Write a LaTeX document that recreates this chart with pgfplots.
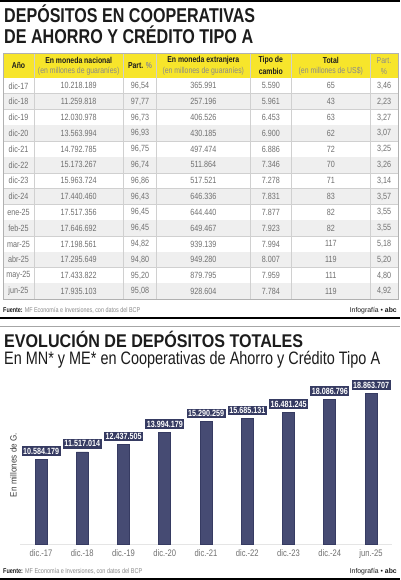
\documentclass[border=0pt]{standalone}
\usepackage{fontspec}
\setmainfont{Liberation Sans}
\newfontfamily\cond[FakeStretch=0.8]{Liberation Sans}
\usepackage{graphicx}
\usepackage{pgfplots}
\usepackage{pgfplotstable}
\pgfplotsset{compat=1.18}
\definecolor{hdr}{HTML}{F7E52B}
\definecolor{navy}{HTML}{464B73}
\definecolor{navyd}{HTML}{363B62}
\definecolor{txtg}{HTML}{707070}
\definecolor{subg}{HTML}{8A8A8A}
\definecolor{rowg}{HTML}{EFEFEF}
\definecolor{lineg}{HTML}{D0D0D0}
\definecolor{ink}{HTML}{1C1C1C}
\newsavebox\fitbox
\newcommand\fitw[2]{\sbox\fitbox{#2}\pgfmathsetmacro\fitf{#1/\wd\fitbox}\scalebox{\fitf}[1]{\usebox\fitbox}}
\pgfplotstableread{
x y lab
0 10584179 10.584.179
1 11517014 11.517.014
2 12437505 12.437.505
3 13994179 13.994.179
4 15290259 15.290.259
5 15685131 15.685.131
6 16481245 16.481.245
7 18086796 18.086.796
8 18863707 18.863.707
}\depos
\begin{document}
\begin{tikzpicture}[x=1pt,y=1pt]
\path[use as bounding box, fill=white] (0,0) rectangle (400,-580);
% top rule
\fill[black] (0,0) rectangle (400,-1.6);
% titles
\node[anchor=base west, inner sep=0, text=ink] at (4,-22.7) {\fitw{251}{\bfseries\cond\fontsize{20}{20}\selectfont DEPÓSITOS EN COOPERATIVAS}};
\node[anchor=base west, inner sep=0, text=ink] at (4,-43.3) {\fitw{249}{\bfseries\cond\fontsize{20}{20}\selectfont DE AHORRO Y CRÉDITO TIPO A}};
% table header
\fill[hdr] (3,-53) rectangle (398,-78);
% rows
\foreach \a/\b/\c/\d/\e/\f/\g [count=\i from 0] in {
dic-17/10.218.189/96{,}54/365.991/5.590/65/3{,}46,
dic-18/11.259.818/97{,}77/257.196/5.961/43/2{,}23,
dic-19/12.030.978/96{,}73/406.526/6.453/63/3{,}27,
dic-20/13.563.994/96{,}93/430.185/6.900/62/3{,}07,
dic-21/14.792.785/96{,}75/497.474/6.886/72/3{,}25,
dic-22/15.173.267/96{,}74/511.864/7.346/70/3{,}26,
dic-23/15.963.724/96{,}86/517.521/7.278/71/3{,}14,
dic-24/17.440.460/96{,}43/646.336/7.831/83/3{,}57,
ene-25/17.517.356/96{,}45/644.440/7.877/82/3{,}55,
feb-25/17.646.692/96{,}45/649.467/7.923/82/3{,}55,
mar-25/17.198.561/94{,}82/939.139/7.994/117/5{,}18,
abr-25/17.295.649/94{,}80/949.280/8.007/119/5{,}20,
may-25/17.433.822/95{,}20/879.795/7.959/111/4{,}80,
jun-25/17.935.103/95{,}08/928.604/7.784/119/4{,}92}
{
  \pgfmathsetmacro\yt{-78-15.8*\i}
  \pgfmathsetmacro\yb{-78-15.8*(\i+1)}
  \pgfmathsetmacro\yc{-78-15.8*(\i+0.5)}
  \ifodd\i \fill[rowg] (3,\yt) rectangle (398,\yb); \fi
  \draw[lineg, line width=0.6pt] (3,\yb) -- (398,\yb);
  \begin{scope}[every node/.style={inner sep=0, text=txtg, font=\cond\fontsize{9}{9}\selectfont}]
  \node at (18.5,\yc) {\a};
  \node at (78.7,\yc) {\b};
  \node at (140,\yc) {\c};
  \node at (203.3,\yc) {\d};
  \node at (270.8,\yc) {\e};
  \node at (330.8,\yc) {\f};
  \node at (384,\yc) {\g};
  \end{scope}
}
% vertical lines
\foreach \xx in {34,123.3,156.7,250,291.7,370}
  \draw[lineg, line width=0.6pt] (\xx,-53) -- (\xx,-299.2);
\draw[lineg!85!black, line width=0.6pt] (3,-53) rectangle (398,-299.2);
% header text
\begin{scope}[every node/.style={inner sep=0, align=center}]
\def\hb{\color{ink}\cond\bfseries\fontsize{8.6}{8.6}\selectfont}
\def\hs{\color{subg}\cond\fontsize{8.6}{8.6}\selectfont}
\node at (18.5,-65.5) {\hb Año};
\node at (78.7,-60.5) {\hb En moneda nacional};
\node at (78.7,-71.5) {\hs (en millones de guaraníes)};
\node at (140,-65.5) {\hb Part. {\hs\%}};
\node at (203.3,-60.5) {\hb En moneda extranjera};
\node at (203.3,-71.5) {\hs (en millones de guaraníes)};
\node at (270.8,-60.5) {\hb Tipo de};
\node at (270.8,-71.5) {\hb cambio};
\node at (330.8,-60.5) {\hb Total};
\node at (330.8,-71.5) {\hs (en millones de US\$)};
\node at (384,-60.5) {\hs Part.};
\node at (384,-71.5) {\hs \%};
\end{scope}
% footer 1
\node[anchor=base west, inner sep=0] at (3,-312.8) {\fitw{137}{\fontsize{7}{7}\selectfont\cond{\color{ink}\bfseries Fuente:} {\color{subg}MF Economía e Inversiones, con datos del BCP}}};
\node[anchor=base east, inner sep=0] at (397,-312.8) {\fitw{47}{\fontsize{7}{7}\selectfont\cond{\color{ink}Infografía • \bfseries abc}}};
% separators
\fill[black] (0,-317.2) rectangle (400,-319.4);
\fill[black!35] (0,-326) rectangle (400,-327);
% chart titles
\node[anchor=base west, inner sep=0, text=ink] at (4,-347.3) {\fitw{299}{\bfseries\cond\fontsize{18.4}{18.4}\selectfont EVOLUCIÓN DE DEPÓSITOS TOTALES}};
\node[anchor=base west, inner sep=0, text=ink] at (4,-364.4) {\fitw{376}{\cond\fontsize{18}{18}\selectfont En MN* y ME* en Cooperativas de Ahorro y Crédito Tipo A}};
% y label
\node[rotate=90, inner sep=0, text=ink!85] at (13.5,-465) {\fitw{64}{\cond\fontsize{9}{9}\selectfont En millones de G.}};
\begin{axis}[
  at={(20.4pt,-544pt)}, anchor=south west,
  scale only axis, width=371.25pt, height=160pt,
  xmin=-0.5, xmax=8.5, ymin=0, ymax=20000000,
  axis y line=none, axis x line*=bottom,
  x axis line style={draw=black!10, line width=0.8pt},
  xtick={0,...,8},
  xticklabels={dic.-17,dic.-18,dic.-19,dic.-20,dic.-21,dic.-22,dic.-23,dic.-24,jun.-25},
  major tick length=0pt,
  xticklabel style={font=\cond\fontsize{9.5}{9.5}\selectfont, text=txtg, yshift=-2pt},
  clip=false,
  ybar, bar width=12pt,
  nodes near coords,
  point meta=explicit symbolic,
  every node near coord/.append style={fill=navyd, text=white,
     font=\cond\bfseries\fontsize{9}{9}\selectfont,
     inner xsep=1.5pt, inner ysep=1.6pt, anchor=south, yshift=3pt},
]
\addplot[fill=navy, draw=navyd, line width=0.6pt] table[x=x, y=y, meta=lab] {\depos};
\end{axis}
% footer 2
\node[anchor=base west, inner sep=0] at (3,-573.5) {\fitw{139}{\fontsize{7}{7}\selectfont\cond{\color{ink}\bfseries Fuente:} {\color{subg}MF Economía e Inversiones, con datos del BCP}}};
\node[anchor=base east, inner sep=0] at (397,-573.5) {\fitw{47}{\fontsize{7}{7}\selectfont\cond{\color{ink}Infografía • \bfseries abc}}};
\fill[black] (0,-578) rectangle (400,-580);
\end{tikzpicture}
\end{document}
